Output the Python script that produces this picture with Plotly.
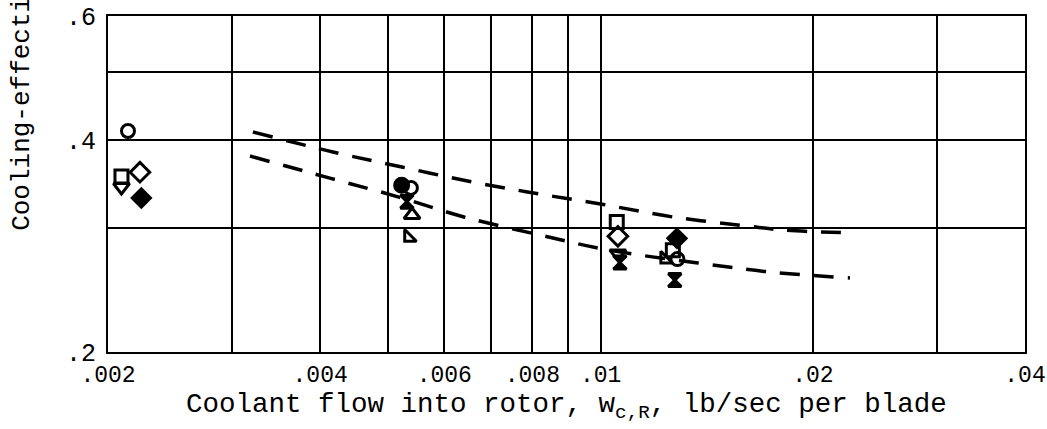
import plotly.graph_objects as go

# ---- data ----
x_tickvals = [0.002, 0.003, 0.004, 0.005, 0.006, 0.007, 0.008, 0.009, 0.01, 0.02, 0.03, 0.04]
x_ticktext = [".002", "", ".004", "", ".006", "", ".008", "", ".01", ".02", "", ".04"]
y_tickvals = [0.2, 0.3, 0.4, 0.5, 0.6]
y_ticktext = [".2", "", ".4", "", ".6"]

circle_open_x = [0.002135, 0.00538, 0.01285]
circle_open_y = [0.412, 0.342, 0.271]
square_open_x = [0.00209, 0.01054, 0.01266]
square_open_y = [0.355, 0.306, 0.279]
tri_down_open_x = [0.00209, 0.01058]
tri_down_open_y = [0.343, 0.276]
diamond_open_x = [0.00222, 0.01058]
diamond_open_y = [0.360, 0.292]
diamond_filled_x = [0.00223, 0.01283]
diamond_filled_y = [0.331, 0.290]
circle_filled_x = [0.00522]
circle_filled_y = [0.345]
hourglass_x = [0.00531, 0.01065, 0.01274]
hourglass_y = [0.327, 0.268, 0.253]
tri_up_open_x = [0.00540]
tri_up_open_y = [0.313]
tri_sw_open_x = [0.00534, 0.01233]
tri_sw_open_y = [0.291, 0.271]

upper_curve_x = [0.003211, 0.00417, 0.005224, 0.006567, 0.008172, 0.01014, 0.01266, 0.01612, 0.01813, 0.02272]
upper_curve_y = [0.4106, 0.3846, 0.3662, 0.3488, 0.3354, 0.3236, 0.3110, 0.3020, 0.2980, 0.2952]
lower_curve_x = [0.00318, 0.004116, 0.005157, 0.006398, 0.0082, 0.01024, 0.01374, 0.01738, 0.02258]
lower_curve_y = [0.3796, 0.3534, 0.3322, 0.3110, 0.2932, 0.2792, 0.2676, 0.2598, 0.2548]

FONT = "Liberation Mono"
fig = go.Figure()

for cx, cy in [(upper_curve_x, upper_curve_y), (lower_curve_x, lower_curve_y)]:
    fig.add_trace(go.Scatter(x=cx, y=cy, mode="lines", line=dict(color="black", width=3.5, dash="20px,14px"),
                             line_shape="spline", showlegend=False, hoverinfo="skip"))

markers = [
    (circle_open_x, circle_open_y, "circle-open", 13),
    (square_open_x, square_open_y, "square-open", 13),
    (tri_down_open_x, tri_down_open_y, "triangle-down-open", 14),
    (diamond_open_x, diamond_open_y, "diamond-open", 15),
    (diamond_filled_x, diamond_filled_y, "diamond", 14),
    (circle_filled_x, circle_filled_y, "circle", 14),
    (hourglass_x, hourglass_y, "hourglass", 13),
    (tri_up_open_x, tri_up_open_y, "triangle-up-open", 14),
    (tri_sw_open_x, tri_sw_open_y, "triangle-sw-open", 13),
]
for mx, my, sym, sz in markers:
    fig.add_trace(go.Scatter(x=mx, y=my, mode="markers",
                             marker=dict(symbol=sym, size=sz, color="black", line=dict(color="black", width=3)),
                             showlegend=False))

fig.update_xaxes(type="log", range=[-2.69897, -1.39794], tickvals=x_tickvals, ticktext=x_ticktext,
                 showgrid=True, gridcolor="black", gridwidth=1.6, showline=True, linecolor="black",
                 linewidth=2.2, mirror=True, ticks="", zeroline=False,
                 tickfont=dict(family=FONT, size=23, color="black"))
fig.update_yaxes(type="log", range=[-0.69897, -0.22185], tickvals=y_tickvals, ticktext=y_ticktext,
                 showgrid=True, gridcolor="black", gridwidth=1.6, showline=True, linecolor="black",
                 linewidth=2.2, mirror=True, ticks="", zeroline=False, ticklabelstandoff=5,
                 tickfont=dict(family=FONT, size=25, color="black"))

fig.add_annotation(text="Coolant flow into rotor, w<sub>c,R</sub>, lb/sec per blade",
                   xref="paper", yref="paper", x=0.5, y=-0.162, xanchor="center", yanchor="middle",
                   showarrow=False, font=dict(family=FONT, size=27.5, color="black"))
fig.add_annotation(text="Cooling-effectiveness ratio, φ",
                   xref="paper", yref="paper", x=-0.094, y=0.354, xanchor="center", yanchor="bottom",
                   textangle=-90, showarrow=False, font=dict(family=FONT, size=26, color="black"))

fig.update_layout(width=1047, height=429, margin=dict(l=108, r=22, t=16, b=77, autoexpand=False),
                  paper_bgcolor="white", plot_bgcolor="white")
fig.write_html("out.html", config={"displayModeBar": False},
               post_script="document.body.style.margin='0px';")
